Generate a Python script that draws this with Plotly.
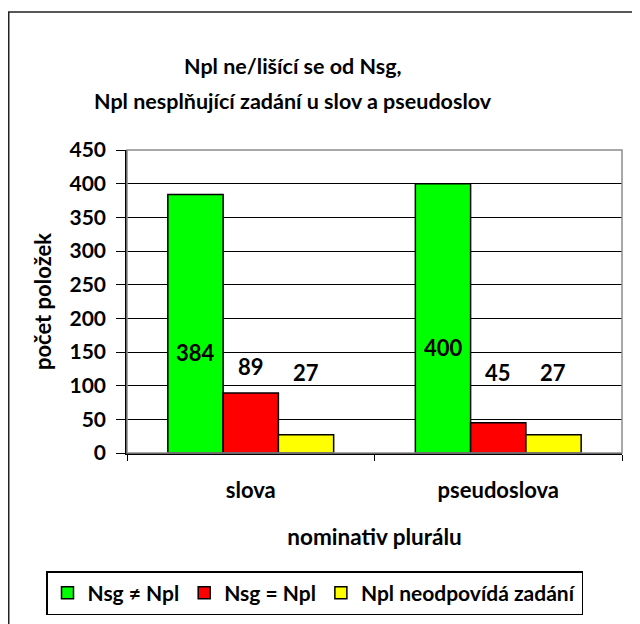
import plotly.graph_objects as go

categories = ["slova", "pseudoslova"]
series_names = ["Nsg \u2260 Npl", "Nsg = Npl", "Npl neodpovídá zadání"]
nsg_ne_npl = [384, 400]
nsg_eq_npl = [89, 45]
npl_neodpovida = [27, 27]
y_ticks = [0, 50, 100, 150, 200, 250, 300, 350, 400, 450]

values = [nsg_ne_npl, nsg_eq_npl, npl_neodpovida]
colors = ["#00FF00", "#FF0000", "#FFFF00"]

# label heights as placed by hand in the original chart
label_y = [[150, 157], [128, 120], [119, 120]]
bar_shift = [-55, 0, 55]

FONT = "Lato"
OFF = 8  # page body margin
W, H = 640 - OFF, 624 - OFF
L, T = 127 - OFF, 150 - OFF
R = W - (622 - OFF)
B = H - (453 - OFF)
pw, ph = W - L - R, H - T - B


def px_x(p):
    # screen pixel -> paper x
    return (p - OFF - L) / pw


def px_y(p):
    # screen pixel -> paper y
    return (H - B - (p - OFF)) / ph


def f(size):
    return dict(family=FONT, size=size, color="black", weight="bold")


fig = go.Figure()
for name, vals, col in zip(series_names, values, colors):
    fig.add_trace(go.Bar(
        x=categories, y=vals, name=name,
        marker=dict(color=col, line=dict(color="black", width=1.5)),
    ))

for i, vals in enumerate(values):
    for j, v in enumerate(vals):
        fig.add_annotation(
            x=categories[j], y=label_y[i][j], text=str(v),
            showarrow=False, xshift=bar_shift[i], font=f(22),
        )

# two-line chart title
for text, yc in [("Npl ne/lišící se od Nsg,", 66),
                 ("Npl nesplňující zadání u slov a pseudoslov", 101)]:
    fig.add_annotation(
        xref="paper", yref="paper", x=px_x(293), y=px_y(yc),
        xanchor="center", yanchor="middle", text=text,
        showarrow=False, font=f(21.5),
    )

# outer chart frame (only top/left visible in the picture)
fig.add_shape(type="rect", xref="paper", yref="paper",
              x0=px_x(OFF + 0.75), x1=px_x(700), y0=px_y(700), y1=px_y(12),
              line=dict(color="#222222", width=1.5), layer="below")
# plot area border
fig.add_shape(type="rect", xref="paper", yref="paper",
              x0=0, x1=1, y0=0, y1=1,
              line=dict(color="#8c8c8c", width=1.5), layer="above")

fig.update_layout(
    width=W, height=H,
    margin=dict(l=L, r=R, t=T, b=B, autoexpand=False),
    paper_bgcolor="white", plot_bgcolor="white",
    barmode="group", bargap=0.33, bargroupgap=0,
    font=dict(family=FONT, color="black"),
    showlegend=True,
    legend=dict(
        orientation="h",
        x=px_x(46), xanchor="left",
        y=px_y(571), yanchor="top",
        bordercolor="black", borderwidth=1.5,
        font=f(21), traceorder="normal",
    ),
)

fig.update_xaxes(
    showline=True, linecolor="black", linewidth=1.5,
    ticks="outside", tickson="boundaries", ticklen=6, tickcolor="black",
    ticklabelstandoff=17, tickfont=f(22),
    title=dict(text="nominativ plurálu", standoff=27, font=f(22.5)),
)
fig.update_yaxes(
    range=[0, 450], tickvals=y_ticks,
    showline=True, linecolor="black", linewidth=1.5,
    ticks="outside", ticklen=9, tickcolor="black",
    showgrid=True, gridcolor="black", gridwidth=1.2, zeroline=False,
    ticklabelstandoff=6, tickfont=f(21),
    title=dict(text="počet položek", standoff=12, font=f(22)),
)

fig.write_html("out.html")
